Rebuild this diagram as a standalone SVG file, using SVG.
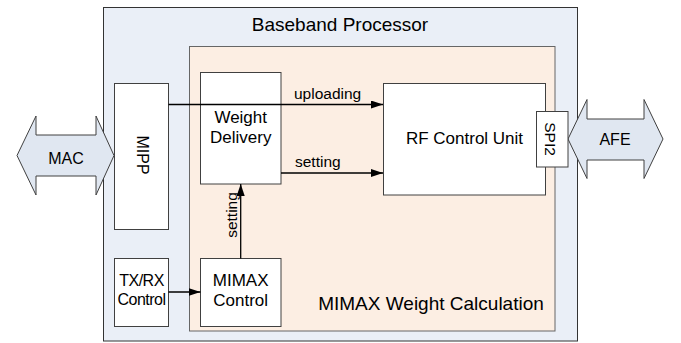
<svg xmlns="http://www.w3.org/2000/svg" width="681" height="343" viewBox="0 0 681 343">
<defs>
<style>
text{font-family:"Liberation Sans",Arial,sans-serif;fill:#000}
.box{fill:#fff;stroke:#404040;stroke-width:1}
.ext{fill:#E0E7F1;stroke:#404040;stroke-width:1}
.con{fill:none;stroke:#000;stroke-width:1.3}
</style>
<marker id="ah" viewBox="0 0 12 8" refX="12" refY="4" markerWidth="12" markerHeight="8" markerUnits="userSpaceOnUse" orient="auto">
<path d="M0,0 L12,4 L0,8 z" fill="#000"/>
</marker>
</defs>
<rect width="681" height="343" fill="#fff"/>
<g id="baseband">
<rect x="103.5" y="7.5" width="474" height="333.5" fill="#EAEFF7" stroke="#333" stroke-width="1"/>
<text x="340" y="31" font-size="19" text-anchor="middle">Baseband Processor</text>
</g>
<g id="mimax-weight-calc">
<rect x="189.5" y="46.5" width="365.5" height="284.5" fill="#FCEEE3" stroke="#666" stroke-width="1"/>
<text x="431" y="310" font-size="19" text-anchor="middle">MIMAX Weight Calculation</text>
</g>
<g id="mac">
<path class="ext" d="M17,155.5 L36,116 L36,135 L96,135 L96,116 L114,155.5 L96,195 L96,176 L36,176 L36,195 Z"/>
<text x="66" y="163.5" font-size="16" text-anchor="middle">MAC</text>
</g>
<g id="afe">
<path class="ext" d="M568,139 L587,99.5 L587,119 L644,119 L644,99.5 L663,139 L644,178.5 L644,160 L587,160 L587,178.5 Z"/>
<text x="615" y="144.5" font-size="16" text-anchor="middle">AFE</text>
</g>
<g id="mipp">
<rect class="box" x="114.5" y="83.5" width="54" height="146"/>
<text transform="translate(136.5,155) rotate(90)" font-size="16" text-anchor="middle">MIPP</text>
</g>
<g id="txrx-control">
<rect class="box" x="114.5" y="258.5" width="54" height="68"/>
<text x="141.5" y="286" font-size="16" text-anchor="middle" letter-spacing="-0.5">TX/RX</text>
<text x="141.5" y="305" font-size="16" text-anchor="middle" letter-spacing="-0.5">Control</text>
</g>
<g id="weight-delivery">
<rect class="box" x="200.5" y="72.5" width="80.5" height="111.5"/>
<text x="240.7" y="123" font-size="17" text-anchor="middle">Weight</text>
<text x="240.7" y="143" font-size="17" text-anchor="middle">Delivery</text>
</g>
<g id="mimax-control">
<rect class="box" x="200.5" y="258.5" width="80.5" height="68"/>
<text x="240.7" y="286" font-size="17" text-anchor="middle">MIMAX</text>
<text x="240.7" y="306" font-size="17" text-anchor="middle">Control</text>
</g>
<g id="rf-control-unit">
<rect class="box" x="383.5" y="83.5" width="162" height="111.5"/>
<text x="464.5" y="144" font-size="17" text-anchor="middle">RF Control Unit</text>
</g>
<g id="spi2">
<rect class="box" x="536.5" y="111.5" width="31.5" height="55.5"/>
<text transform="translate(545,139) rotate(90)" font-size="15.5" text-anchor="middle">SPI2</text>
</g>
<g id="connectors">
<line class="con" x1="168.5" y1="104.5" x2="383" y2="104.5" marker-end="url(#ah)"/>
<text x="294" y="99" font-size="15.5">uploading</text>
<line class="con" x1="281" y1="173" x2="383" y2="173" marker-end="url(#ah)"/>
<text x="295" y="167" font-size="15.5">setting</text>
<line class="con" x1="240.7" y1="258.5" x2="240.7" y2="184" marker-end="url(#ah)"/>
<text transform="translate(236.5,215) rotate(-90)" font-size="15.5" text-anchor="middle">setting</text>
<line class="con" x1="168.5" y1="292" x2="200.5" y2="292" marker-end="url(#ah)"/>
</g>
</svg>
